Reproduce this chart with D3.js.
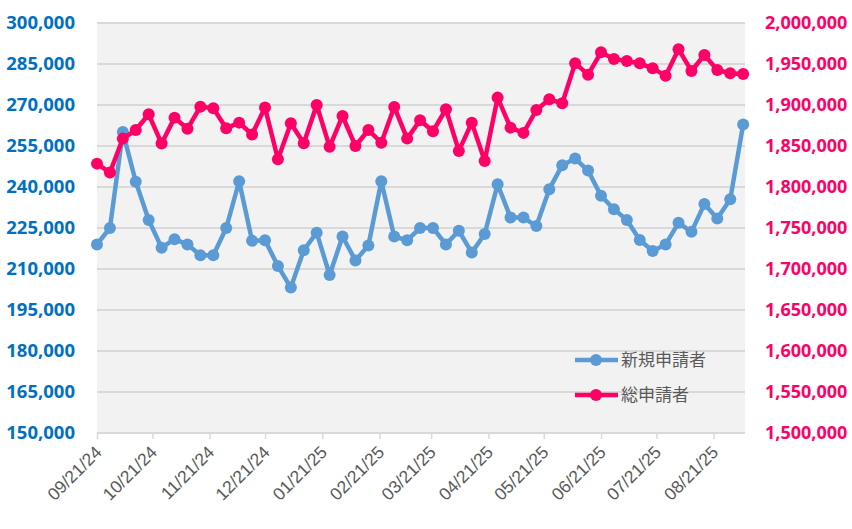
<!DOCTYPE html>
<html><head><meta charset="utf-8">
<script src="https://cdn.jsdelivr.net/npm/d3@7"></script>
<style>html,body{margin:0;padding:0;background:#fff;}svg{display:block;}</style>
</head><body>
<svg id="chart" width="852" height="529"></svg>
<script>
const weekDates = ["2024-09-21","2024-09-28","2024-10-05","2024-10-12","2024-10-19","2024-10-26","2024-11-02","2024-11-09","2024-11-16","2024-11-23","2024-11-30","2024-12-07","2024-12-14","2024-12-21","2024-12-28","2025-01-04","2025-01-11","2025-01-18","2025-01-25","2025-02-01","2025-02-08","2025-02-15","2025-02-22","2025-03-01","2025-03-08","2025-03-15","2025-03-22","2025-03-29","2025-04-05","2025-04-12","2025-04-19","2025-04-26","2025-05-03","2025-05-10","2025-05-17","2025-05-24","2025-05-31","2025-06-07","2025-06-14","2025-06-21","2025-06-28","2025-07-05","2025-07-12","2025-07-19","2025-07-26","2025-08-02","2025-08-09","2025-08-16","2025-08-23","2025-08-30","2025-09-06"];
const newApplicants = [219000,225000,260100,241900,227900,217800,220900,219000,215000,215000,225000,242100,220300,220500,211100,203200,216900,223300,207800,221900,213100,218600,242100,221900,220500,225000,225000,219000,224000,216000,222800,241000,228800,228800,225700,239200,248000,250400,246000,236800,231900,227900,220600,216600,219000,226900,223600,233800,228500,235500,262900];
const totalApplicants = [1828500,1817600,1859000,1869500,1888700,1853000,1884600,1871000,1898000,1896000,1871600,1878500,1864000,1897000,1833800,1877700,1853300,1900000,1849000,1886600,1850000,1869500,1854000,1897600,1859000,1881500,1868000,1894800,1844000,1878500,1831700,1909000,1872400,1866000,1893900,1907000,1902000,1951000,1937000,1964300,1956000,1953700,1950800,1944700,1935800,1968000,1941500,1961000,1942700,1938700,1937800];
const xTickLabels = ["2024-09-21","2024-10-21","2024-11-21","2024-12-21","2025-01-21","2025-02-21","2025-03-21","2025-04-21","2025-05-21","2025-06-21","2025-07-21","2025-08-21"];
const leftTicks = [150000,165000,180000,195000,210000,225000,240000,255000,270000,285000,300000];
const rightTicks = [1500000,1550000,1600000,1650000,1700000,1750000,1800000,1850000,1900000,1950000,2000000];
const seriesNames = ["新規申請者","総申請者"];

const parse = d3.timeParse("%Y-%m-%d");
const fmtDate = d3.timeFormat("%m/%d/%y");
const fmtNum = d3.format(",");
const blue = "#5b9bd5", pink = "#ff0066";

const svg = d3.select("#chart");
const L = 97, R = 745, T = 23, B = 433;

const x = d3.scaleTime().domain([parse("2024-09-21"), parse("2025-09-07")]).range([L, R]);
const yL = d3.scaleLinear().domain([150000, 300000]).range([B, T]);
const yR = d3.scaleLinear().domain([1500000, 2000000]).range([B, T]);

svg.append("rect").attr("x", L).attr("y", T).attr("width", R - L).attr("height", B - T).attr("fill", "#f2f2f2");

// gridlines
svg.append("g").selectAll("line").data(leftTicks.filter(d => d > 150000)).join("line")
  .attr("x1", L).attr("x2", R).attr("y1", d => yL(d)).attr("y2", d => yL(d))
  .attr("stroke", "#d9d9d9").attr("stroke-width", 2);

// x axis
const xAxis = d3.axisBottom(x).tickValues(xTickLabels.map(parse)).tickFormat(fmtDate).tickSizeOuter(0).tickSize(6);
const gx = svg.append("g").attr("transform", `translate(0,${B})`).call(xAxis);
gx.select(".domain").attr("stroke", "#d9d9d9").attr("stroke-width", 2).attr("d", `M${L},0H${R}`);
gx.selectAll(".tick line").attr("stroke", "#d9d9d9").attr("stroke-width", 1.5);
gx.selectAll(".tick text")
  .attr("fill", "#595959").attr("font-family", "'Liberation Sans', Arial, sans-serif").attr("font-size", 17.5)
  .attr("text-anchor", "end").attr("dy", "0.35em").attr("y", 0)
  .attr("transform", "translate(1,16) rotate(-45)");

// left axis
const gl = svg.append("g").attr("transform", `translate(${L},0)`)
  .call(d3.axisLeft(yL).tickValues(leftTicks).tickFormat(fmtNum).tickSize(0).tickPadding(22));
gl.select(".domain").remove();
gl.selectAll(".tick text").attr("fill", "#0070c0").attr("font-family", "'Noto Sans', sans-serif")
  .attr("font-weight", "bold").attr("font-size", 18.5);

// right axis
const gr = svg.append("g").attr("transform", `translate(${R},0)`)
  .call(d3.axisRight(yR).tickValues(rightTicks).tickFormat(fmtNum).tickSize(0).tickPadding(20));
gr.select(".domain").remove();
gr.selectAll(".tick text").attr("fill", pink).attr("font-family", "'Noto Sans', sans-serif")
  .attr("font-weight", "bold").attr("font-size", 18);

const dates = weekDates.map(parse);
function drawSeries(values, scale, color) {
  const data = dates.map((d, i) => ({d, v: values[i]}));
  const line = d3.line().x(p => x(p.d)).y(p => scale(p.v));
  svg.append("path").datum(data).attr("d", line).attr("fill", "none")
    .attr("stroke", color).attr("stroke-width", 4.5).attr("stroke-linejoin", "round");
  svg.append("g").selectAll("circle").data(data).join("circle")
    .attr("cx", p => x(p.d)).attr("cy", p => scale(p.v)).attr("r", 6).attr("fill", color);
}
drawSeries(newApplicants, yL, blue);
drawSeries(totalApplicants, yR, pink);

// legend
const legend = svg.append("g");
[[seriesNames[0], blue, 360], [seriesNames[1], pink, 395]].forEach(([name, color, yy]) => {
  legend.append("line").attr("x1", 575).attr("x2", 618).attr("y1", yy).attr("y2", yy)
    .attr("stroke", color).attr("stroke-width", 4.5);
  legend.append("circle").attr("cx", 596).attr("cy", yy).attr("r", 6).attr("fill", color);
  legend.append("text").attr("x", 621).attr("y", yy).attr("dy", "0.35em")
    .attr("fill", "#595959").attr("font-family", "'Noto Sans CJK JP', sans-serif").attr("font-size", 17)
    .text(name);
});
</script>
</body></html>
